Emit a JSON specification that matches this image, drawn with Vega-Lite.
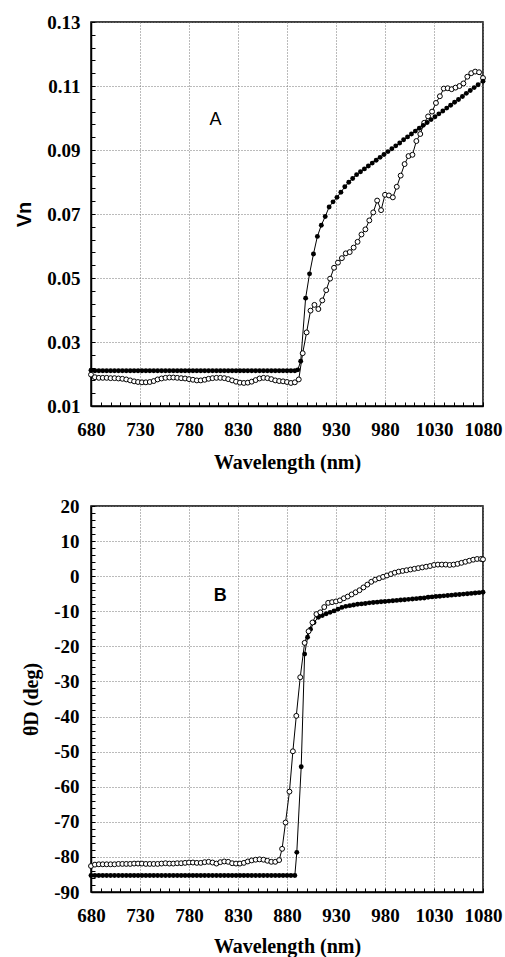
{
  "$schema": "https://vega.github.io/schema/vega-lite/v6.json",
  "background": "white",
  "padding": {"left": 14, "top": 12, "right": 2, "bottom": 0},
  "spacing": 23,
  "config": {
    "view": {"stroke": "black", "strokeWidth": 1.5},
    "axis": {
      "domainColor": "black", "domainWidth": 1.5,
      "tickColor": "black", "tickWidth": 1,
      "labelFont": "Liberation Serif", "labelFontWeight": "bold", "labelFontSize": 19, "labelColor": "black",
      "titleFont": "Liberation Serif", "titleFontWeight": "bold", "titleFontSize": 20, "titleColor": "black",
      "gridColor": "#777", "gridDash": [1, 2], "gridWidth": 1,
      "labelOverlap": false, "labelFlush": false
    }
  },
  "datasets": {
    "a": [
      {"wl":680,"v":0.0212,"s":"filled"},{"wl":684,"v":0.021,"s":"filled"},{"wl":688,"v":0.021,"s":"filled"},{"wl":692,"v":0.021,"s":"filled"},{"wl":696,"v":0.021,"s":"filled"},{"wl":700,"v":0.021,"s":"filled"},{"wl":704,"v":0.021,"s":"filled"},{"wl":708,"v":0.021,"s":"filled"},{"wl":712,"v":0.021,"s":"filled"},{"wl":716,"v":0.021,"s":"filled"},{"wl":720,"v":0.021,"s":"filled"},{"wl":724,"v":0.021,"s":"filled"},{"wl":728,"v":0.021,"s":"filled"},{"wl":732,"v":0.021,"s":"filled"},{"wl":736,"v":0.021,"s":"filled"},{"wl":740,"v":0.021,"s":"filled"},{"wl":744,"v":0.021,"s":"filled"},{"wl":748,"v":0.021,"s":"filled"},{"wl":752,"v":0.021,"s":"filled"},{"wl":756,"v":0.021,"s":"filled"},{"wl":760,"v":0.021,"s":"filled"},{"wl":764,"v":0.021,"s":"filled"},{"wl":768,"v":0.021,"s":"filled"},{"wl":772,"v":0.021,"s":"filled"},{"wl":776,"v":0.021,"s":"filled"},{"wl":780,"v":0.021,"s":"filled"},{"wl":784,"v":0.021,"s":"filled"},{"wl":788,"v":0.021,"s":"filled"},{"wl":792,"v":0.021,"s":"filled"},{"wl":796,"v":0.021,"s":"filled"},{"wl":800,"v":0.021,"s":"filled"},{"wl":804,"v":0.021,"s":"filled"},{"wl":808,"v":0.021,"s":"filled"},{"wl":812,"v":0.021,"s":"filled"},{"wl":816,"v":0.021,"s":"filled"},{"wl":820,"v":0.021,"s":"filled"},{"wl":824,"v":0.021,"s":"filled"},{"wl":828,"v":0.021,"s":"filled"},{"wl":832,"v":0.021,"s":"filled"},{"wl":836,"v":0.021,"s":"filled"},{"wl":840,"v":0.021,"s":"filled"},{"wl":844,"v":0.021,"s":"filled"},{"wl":848,"v":0.021,"s":"filled"},{"wl":852,"v":0.021,"s":"filled"},{"wl":856,"v":0.021,"s":"filled"},{"wl":860,"v":0.021,"s":"filled"},{"wl":864,"v":0.021,"s":"filled"},{"wl":868,"v":0.021,"s":"filled"},{"wl":872,"v":0.021,"s":"filled"},{"wl":876,"v":0.021,"s":"filled"},{"wl":880,"v":0.021,"s":"filled"},{"wl":884,"v":0.021,"s":"filled"},{"wl":888,"v":0.021,"s":"filled"},
      {"wl":891,"v":0.0213,"s":"filled"},{"wl":894,"v":0.024,"s":"filled"},{"wl":899,"v":0.0437,"s":"filled"},{"wl":903,"v":0.0513,"s":"filled"},{"wl":907,"v":0.0575,"s":"filled"},{"wl":911,"v":0.063,"s":"filled"},{"wl":915,"v":0.0665,"s":"filled"},{"wl":919,"v":0.0692,"s":"filled"},{"wl":923,"v":0.0722,"s":"filled"},{"wl":927,"v":0.0738,"s":"filled"},{"wl":931,"v":0.0752,"s":"filled"},{"wl":935,"v":0.0768,"s":"filled"},{"wl":939,"v":0.0785,"s":"filled"},{"wl":943,"v":0.0799,"s":"filled"},{"wl":947,"v":0.0811,"s":"filled"},{"wl":951,"v":0.0823,"s":"filled"},{"wl":955,"v":0.0832,"s":"filled"},{"wl":959,"v":0.0841,"s":"filled"},{"wl":963,"v":0.085,"s":"filled"},{"wl":967,"v":0.0859,"s":"filled"},{"wl":971,"v":0.0868,"s":"filled"},{"wl":975,"v":0.0877,"s":"filled"},{"wl":979,"v":0.0886,"s":"filled"},{"wl":983,"v":0.0895,"s":"filled"},{"wl":987,"v":0.0904,"s":"filled"},{"wl":991,"v":0.0913,"s":"filled"},{"wl":995,"v":0.0922,"s":"filled"},{"wl":999,"v":0.0932,"s":"filled"},{"wl":1003,"v":0.0941,"s":"filled"},{"wl":1007,"v":0.095,"s":"filled"},{"wl":1011,"v":0.0959,"s":"filled"},{"wl":1015,"v":0.0968,"s":"filled"},{"wl":1019,"v":0.0977,"s":"filled"},{"wl":1023,"v":0.0986,"s":"filled"},{"wl":1027,"v":0.0995,"s":"filled"},{"wl":1031,"v":0.1004,"s":"filled"},{"wl":1035,"v":0.1013,"s":"filled"},{"wl":1039,"v":0.1022,"s":"filled"},{"wl":1043,"v":0.1031,"s":"filled"},{"wl":1047,"v":0.104,"s":"filled"},{"wl":1051,"v":0.1049,"s":"filled"},{"wl":1055,"v":0.1058,"s":"filled"},{"wl":1059,"v":0.1067,"s":"filled"},{"wl":1063,"v":0.1077,"s":"filled"},{"wl":1067,"v":0.1086,"s":"filled"},{"wl":1071,"v":0.1095,"s":"filled"},{"wl":1075,"v":0.1104,"s":"filled"},{"wl":1080,"v":0.1115,"s":"filled"},
      {"wl":680,"v":0.0198,"s":"open"},{"wl":684,"v":0.019,"s":"open"},{"wl":688,"v":0.0188,"s":"open"},{"wl":692,"v":0.0188,"s":"open"},{"wl":696,"v":0.0188,"s":"open"},{"wl":700,"v":0.0187,"s":"open"},{"wl":704,"v":0.0187,"s":"open"},{"wl":708,"v":0.0186,"s":"open"},{"wl":712,"v":0.0185,"s":"open"},{"wl":716,"v":0.0183,"s":"open"},{"wl":720,"v":0.018,"s":"open"},{"wl":724,"v":0.0177,"s":"open"},{"wl":728,"v":0.0175,"s":"open"},{"wl":732,"v":0.0174,"s":"open"},{"wl":736,"v":0.0174,"s":"open"},{"wl":740,"v":0.0175,"s":"open"},{"wl":744,"v":0.0178,"s":"open"},{"wl":748,"v":0.0183,"s":"open"},{"wl":752,"v":0.0186,"s":"open"},{"wl":756,"v":0.0188,"s":"open"},{"wl":760,"v":0.0189,"s":"open"},{"wl":764,"v":0.0189,"s":"open"},{"wl":768,"v":0.0188,"s":"open"},{"wl":772,"v":0.0187,"s":"open"},{"wl":776,"v":0.0186,"s":"open"},{"wl":780,"v":0.0184,"s":"open"},{"wl":784,"v":0.0182,"s":"open"},{"wl":788,"v":0.018,"s":"open"},{"wl":792,"v":0.018,"s":"open"},{"wl":796,"v":0.0182,"s":"open"},{"wl":800,"v":0.0185,"s":"open"},{"wl":804,"v":0.0187,"s":"open"},{"wl":808,"v":0.0188,"s":"open"},{"wl":812,"v":0.0188,"s":"open"},{"wl":816,"v":0.0187,"s":"open"},{"wl":820,"v":0.0184,"s":"open"},{"wl":824,"v":0.018,"s":"open"},{"wl":828,"v":0.0176,"s":"open"},{"wl":832,"v":0.0173,"s":"open"},{"wl":836,"v":0.0172,"s":"open"},{"wl":840,"v":0.0173,"s":"open"},{"wl":844,"v":0.0176,"s":"open"},{"wl":848,"v":0.0181,"s":"open"},{"wl":852,"v":0.0186,"s":"open"},{"wl":856,"v":0.0188,"s":"open"},{"wl":860,"v":0.0187,"s":"open"},{"wl":864,"v":0.0184,"s":"open"},{"wl":868,"v":0.018,"s":"open"},{"wl":872,"v":0.0178,"s":"open"},{"wl":876,"v":0.0177,"s":"open"},{"wl":880,"v":0.0175,"s":"open"},{"wl":884,"v":0.0172,"s":"open"},{"wl":888,"v":0.0174,"s":"open"},{"wl":892,"v":0.0183,"s":"open"},{"wl":896,"v":0.0265,"s":"open"},{"wl":900,"v":0.033,"s":"open"},{"wl":904,"v":0.0398,"s":"open"},{"wl":908,"v":0.0416,"s":"open"},{"wl":912,"v":0.0403,"s":"open"},{"wl":916,"v":0.043,"s":"open"},{"wl":920,"v":0.0462,"s":"open"},{"wl":924,"v":0.0498,"s":"open"},{"wl":928,"v":0.0532,"s":"open"},{"wl":932,"v":0.0548,"s":"open"},{"wl":936,"v":0.0562,"s":"open"},{"wl":940,"v":0.0577,"s":"open"},{"wl":944,"v":0.0581,"s":"open"},{"wl":948,"v":0.0595,"s":"open"},{"wl":952,"v":0.0613,"s":"open"},{"wl":956,"v":0.0636,"s":"open"},{"wl":960,"v":0.0652,"s":"open"},{"wl":964,"v":0.068,"s":"open"},{"wl":968,"v":0.0705,"s":"open"},{"wl":972,"v":0.0742,"s":"open"},{"wl":976,"v":0.0712,"s":"open"},{"wl":980,"v":0.076,"s":"open"},{"wl":984,"v":0.0758,"s":"open"},{"wl":988,"v":0.0752,"s":"open"},{"wl":992,"v":0.0785,"s":"open"},{"wl":996,"v":0.082,"s":"open"},{"wl":1000,"v":0.0856,"s":"open"},{"wl":1004,"v":0.0881,"s":"open"},{"wl":1008,"v":0.0885,"s":"open"},{"wl":1012,"v":0.0928,"s":"open"},{"wl":1016,"v":0.095,"s":"open"},{"wl":1020,"v":0.0985,"s":"open"},{"wl":1024,"v":0.1005,"s":"open"},{"wl":1028,"v":0.102,"s":"open"},{"wl":1032,"v":0.1047,"s":"open"},{"wl":1036,"v":0.1068,"s":"open"},{"wl":1040,"v":0.1092,"s":"open"},{"wl":1044,"v":0.1093,"s":"open"},{"wl":1048,"v":0.109,"s":"open"},{"wl":1052,"v":0.1095,"s":"open"},{"wl":1056,"v":0.11,"s":"open"},{"wl":1060,"v":0.1108,"s":"open"},{"wl":1064,"v":0.1129,"s":"open"},{"wl":1068,"v":0.114,"s":"open"},{"wl":1072,"v":0.1145,"s":"open"},{"wl":1076,"v":0.1143,"s":"open"},{"wl":1080,"v":0.1125,"s":"open"}
    ],
    "b": [
      {"wl":680,"v":-85.3,"s":"filled"},{"wl":684,"v":-85.3,"s":"filled"},{"wl":688,"v":-85.3,"s":"filled"},{"wl":692,"v":-85.3,"s":"filled"},{"wl":696,"v":-85.3,"s":"filled"},{"wl":700,"v":-85.3,"s":"filled"},{"wl":704,"v":-85.3,"s":"filled"},{"wl":708,"v":-85.3,"s":"filled"},{"wl":712,"v":-85.3,"s":"filled"},{"wl":716,"v":-85.3,"s":"filled"},{"wl":720,"v":-85.3,"s":"filled"},{"wl":724,"v":-85.3,"s":"filled"},{"wl":728,"v":-85.3,"s":"filled"},{"wl":732,"v":-85.3,"s":"filled"},{"wl":736,"v":-85.3,"s":"filled"},{"wl":740,"v":-85.3,"s":"filled"},{"wl":744,"v":-85.3,"s":"filled"},{"wl":748,"v":-85.3,"s":"filled"},{"wl":752,"v":-85.3,"s":"filled"},{"wl":756,"v":-85.3,"s":"filled"},{"wl":760,"v":-85.3,"s":"filled"},{"wl":764,"v":-85.3,"s":"filled"},{"wl":768,"v":-85.3,"s":"filled"},{"wl":772,"v":-85.3,"s":"filled"},{"wl":776,"v":-85.3,"s":"filled"},{"wl":780,"v":-85.3,"s":"filled"},{"wl":784,"v":-85.3,"s":"filled"},{"wl":788,"v":-85.3,"s":"filled"},{"wl":792,"v":-85.3,"s":"filled"},{"wl":796,"v":-85.3,"s":"filled"},{"wl":800,"v":-85.3,"s":"filled"},{"wl":804,"v":-85.3,"s":"filled"},{"wl":808,"v":-85.3,"s":"filled"},{"wl":812,"v":-85.3,"s":"filled"},{"wl":816,"v":-85.3,"s":"filled"},{"wl":820,"v":-85.3,"s":"filled"},{"wl":824,"v":-85.3,"s":"filled"},{"wl":828,"v":-85.3,"s":"filled"},{"wl":832,"v":-85.3,"s":"filled"},{"wl":836,"v":-85.3,"s":"filled"},{"wl":840,"v":-85.3,"s":"filled"},{"wl":844,"v":-85.3,"s":"filled"},{"wl":848,"v":-85.3,"s":"filled"},{"wl":852,"v":-85.3,"s":"filled"},{"wl":856,"v":-85.3,"s":"filled"},{"wl":860,"v":-85.3,"s":"filled"},{"wl":864,"v":-85.3,"s":"filled"},{"wl":868,"v":-85.3,"s":"filled"},{"wl":872,"v":-85.3,"s":"filled"},{"wl":876,"v":-85.3,"s":"filled"},{"wl":880,"v":-85.3,"s":"filled"},{"wl":884,"v":-85.3,"s":"filled"},{"wl":888,"v":-85.3,"s":"filled"},
      {"wl":890,"v":-78.7,"s":"filled"},{"wl":894.5,"v":-54.3,"s":"filled"},{"wl":898,"v":-22.2,"s":"filled"},{"wl":901,"v":-17.4,"s":"filled"},{"wl":904,"v":-15.1,"s":"filled"},{"wl":907.5,"v":-13.2,"s":"filled"},{"wl":912,"v":-11.7,"s":"filled"},{"wl":916,"v":-11.2,"s":"filled"},{"wl":920,"v":-10.7,"s":"filled"},{"wl":924,"v":-10.3,"s":"filled"},{"wl":928,"v":-9.9,"s":"filled"},{"wl":932,"v":-9.4,"s":"filled"},{"wl":936,"v":-8.9,"s":"filled"},{"wl":940,"v":-8.6,"s":"filled"},{"wl":944,"v":-8.4,"s":"filled"},{"wl":948,"v":-8.2,"s":"filled"},{"wl":952,"v":-8.0,"s":"filled"},{"wl":956,"v":-7.9,"s":"filled"},{"wl":960,"v":-7.8,"s":"filled"},{"wl":964,"v":-7.6,"s":"filled"},{"wl":968,"v":-7.5,"s":"filled"},{"wl":972,"v":-7.4,"s":"filled"},{"wl":976,"v":-7.3,"s":"filled"},{"wl":980,"v":-7.2,"s":"filled"},{"wl":984,"v":-7.1,"s":"filled"},{"wl":988,"v":-7.0,"s":"filled"},{"wl":992,"v":-6.9,"s":"filled"},{"wl":996,"v":-6.8,"s":"filled"},{"wl":1000,"v":-6.7,"s":"filled"},{"wl":1004,"v":-6.6,"s":"filled"},{"wl":1008,"v":-6.5,"s":"filled"},{"wl":1012,"v":-6.4,"s":"filled"},{"wl":1016,"v":-6.3,"s":"filled"},{"wl":1020,"v":-6.2,"s":"filled"},{"wl":1024,"v":-6.0,"s":"filled"},{"wl":1028,"v":-5.9,"s":"filled"},{"wl":1032,"v":-5.8,"s":"filled"},{"wl":1036,"v":-5.7,"s":"filled"},{"wl":1040,"v":-5.6,"s":"filled"},{"wl":1044,"v":-5.5,"s":"filled"},{"wl":1048,"v":-5.4,"s":"filled"},{"wl":1052,"v":-5.3,"s":"filled"},{"wl":1056,"v":-5.2,"s":"filled"},{"wl":1060,"v":-5.1,"s":"filled"},{"wl":1064,"v":-5.0,"s":"filled"},{"wl":1068,"v":-4.9,"s":"filled"},{"wl":1072,"v":-4.8,"s":"filled"},{"wl":1076,"v":-4.7,"s":"filled"},{"wl":1080,"v":-4.6,"s":"filled"},
      {"wl":680,"v":-82.6,"s":"open"},{"wl":684,"v":-82.2,"s":"open"},{"wl":688,"v":-82.1,"s":"open"},{"wl":692,"v":-82.1,"s":"open"},{"wl":696,"v":-82.1,"s":"open"},{"wl":700,"v":-82.1,"s":"open"},{"wl":704,"v":-82.1,"s":"open"},{"wl":708,"v":-82.0,"s":"open"},{"wl":712,"v":-82.0,"s":"open"},{"wl":716,"v":-82.0,"s":"open"},{"wl":720,"v":-82.0,"s":"open"},{"wl":724,"v":-81.9,"s":"open"},{"wl":728,"v":-81.9,"s":"open"},{"wl":732,"v":-81.9,"s":"open"},{"wl":736,"v":-82.0,"s":"open"},{"wl":740,"v":-82.0,"s":"open"},{"wl":744,"v":-82.0,"s":"open"},{"wl":748,"v":-82.0,"s":"open"},{"wl":752,"v":-81.9,"s":"open"},{"wl":756,"v":-81.8,"s":"open"},{"wl":760,"v":-81.9,"s":"open"},{"wl":764,"v":-81.9,"s":"open"},{"wl":768,"v":-81.8,"s":"open"},{"wl":772,"v":-81.8,"s":"open"},{"wl":776,"v":-81.7,"s":"open"},{"wl":780,"v":-81.6,"s":"open"},{"wl":784,"v":-81.6,"s":"open"},{"wl":788,"v":-81.7,"s":"open"},{"wl":792,"v":-81.7,"s":"open"},{"wl":796,"v":-81.5,"s":"open"},{"wl":800,"v":-81.4,"s":"open"},{"wl":804,"v":-81.6,"s":"open"},{"wl":808,"v":-81.9,"s":"open"},{"wl":812,"v":-81.5,"s":"open"},{"wl":816,"v":-81.3,"s":"open"},{"wl":820,"v":-81.4,"s":"open"},{"wl":824,"v":-81.8,"s":"open"},{"wl":828,"v":-81.9,"s":"open"},{"wl":832,"v":-81.9,"s":"open"},{"wl":836,"v":-81.7,"s":"open"},{"wl":840,"v":-81.3,"s":"open"},{"wl":844,"v":-81.0,"s":"open"},{"wl":848,"v":-80.8,"s":"open"},{"wl":852,"v":-80.7,"s":"open"},{"wl":856,"v":-80.8,"s":"open"},{"wl":860,"v":-81.1,"s":"open"},{"wl":864,"v":-81.4,"s":"open"},{"wl":868,"v":-81.4,"s":"open"},{"wl":872,"v":-80.9,"s":"open"},
      {"wl":875,"v":-77.7,"s":"open"},{"wl":878.5,"v":-70.2,"s":"open"},{"wl":882.5,"v":-61.4,"s":"open"},{"wl":886,"v":-49.9,"s":"open"},{"wl":889.5,"v":-39.8,"s":"open"},{"wl":893.5,"v":-28.8,"s":"open"},{"wl":898,"v":-19.0,"s":"open"},{"wl":902,"v":-15.7,"s":"open"},{"wl":906,"v":-13.2,"s":"open"},{"wl":910,"v":-10.8,"s":"open"},{"wl":914,"v":-10.3,"s":"open"},{"wl":918,"v":-8.8,"s":"open"},{"wl":922,"v":-7.6,"s":"open"},{"wl":926,"v":-7.4,"s":"open"},{"wl":930,"v":-7.2,"s":"open"},{"wl":934,"v":-6.9,"s":"open"},{"wl":938,"v":-6.3,"s":"open"},{"wl":942,"v":-5.8,"s":"open"},{"wl":946,"v":-5.2,"s":"open"},{"wl":950,"v":-4.6,"s":"open"},{"wl":954,"v":-4.0,"s":"open"},{"wl":958,"v":-3.2,"s":"open"},{"wl":962,"v":-2.4,"s":"open"},{"wl":966,"v":-1.6,"s":"open"},{"wl":970,"v":-1.0,"s":"open"},{"wl":974,"v":-0.6,"s":"open"},{"wl":978,"v":-0.2,"s":"open"},{"wl":982,"v":0.2,"s":"open"},{"wl":986,"v":0.6,"s":"open"},{"wl":990,"v":1.0,"s":"open"},{"wl":994,"v":1.3,"s":"open"},{"wl":998,"v":1.5,"s":"open"},{"wl":1002,"v":1.7,"s":"open"},{"wl":1006,"v":1.9,"s":"open"},{"wl":1010,"v":2.1,"s":"open"},{"wl":1014,"v":2.3,"s":"open"},{"wl":1018,"v":2.5,"s":"open"},{"wl":1022,"v":2.7,"s":"open"},{"wl":1026,"v":2.9,"s":"open"},{"wl":1030,"v":3.2,"s":"open"},{"wl":1034,"v":3.3,"s":"open"},{"wl":1038,"v":3.3,"s":"open"},{"wl":1042,"v":3.3,"s":"open"},{"wl":1046,"v":3.2,"s":"open"},{"wl":1050,"v":3.3,"s":"open"},{"wl":1054,"v":3.5,"s":"open"},{"wl":1058,"v":3.8,"s":"open"},{"wl":1062,"v":4.1,"s":"open"},{"wl":1066,"v":4.4,"s":"open"},{"wl":1070,"v":4.7,"s":"open"},{"wl":1074,"v":4.9,"s":"open"},{"wl":1078,"v":4.9,"s":"open"},{"wl":1080,"v":4.8,"s":"open"}
    ],
    "labA": [{"wl": 807, "v": 0.0994, "t": "A"}],
    "labB": [{"wl": 812, "v": -5.6, "t": "B"}]
  },
  "vconcat": [
    {
      "width": 392, "height": 384,
      "data": {"name": "a"},
      "encoding": {
        "x": {"field": "wl", "type": "quantitative", "scale": {"domain": [680, 1080], "nice": false, "zero": false},
          "axis": {"title": "Wavelength (nm)", "titlePadding": 13, "format": "d",
            "values": [680,690,700,710,720,730,740,750,760,770,780,790,800,810,820,830,840,850,860,870,880,890,900,910,920,930,940,950,960,970,980,990,1000,1010,1020,1030,1040,1050,1060,1070,1080],
            "labelExpr": "(datum.value - 680) % 50 === 0 ? datum.label : ''",
            "tickSize": -4, "labelPadding": 18,
            "gridOpacity": {"condition": {"test": "(datum.value - 680) % 50 === 0", "value": 1}, "value": 0}}},
        "y": {"field": "v", "type": "quantitative", "scale": {"domain": [0.01, 0.13], "nice": false, "zero": false},
          "axis": {"title": "Vn", "titleFont": "Liberation Sans", "titlePadding": 12, "format": ".2f",
            "values": [0.01,0.014,0.018,0.022,0.026,0.03,0.034,0.038,0.042,0.046,0.05,0.054,0.058,0.062,0.066,0.07,0.074,0.078,0.082,0.086,0.09,0.094,0.098,0.102,0.106,0.11,0.114,0.118,0.122,0.126,0.13],
            "labelExpr": "abs(datum.value*50 - 0.5 - round(datum.value*50 - 0.5)) < 0.01 ? datum.label : ''",
            "tickSize": -4, "labelPadding": 15,
            "gridOpacity": {"condition": {"test": "abs(datum.value*50 - 0.5 - round(datum.value*50 - 0.5)) < 0.01", "value": 1}, "value": 0}}}
      },
      "layer": [
        {"transform": [{"filter": "datum.s === 'open'"}], "mark": {"type": "line", "color": "black", "strokeWidth": 1}},
        {"transform": [{"filter": "datum.s === 'filled'"}], "mark": {"type": "line", "color": "black", "strokeWidth": 1}},
        {"transform": [{"filter": "datum.s === 'open'"}], "mark": {"type": "point", "shape": "circle", "filled": true, "fill": "white", "stroke": "black", "strokeWidth": 1, "size": 24, "opacity": 1}},
        {"transform": [{"filter": "datum.s === 'filled'"}], "mark": {"type": "point", "shape": "circle", "filled": true, "color": "black", "size": 24, "opacity": 1}},
        {"data": {"name": "labA"}, "mark": {"type": "text", "font": "Liberation Sans", "fontSize": 18, "fontWeight": "normal", "color": "black"}, "encoding": {"text": {"field": "t"}}}
      ]
    },
    {
      "width": 392, "height": 386,
      "data": {"name": "b"},
      "encoding": {
        "x": {"field": "wl", "type": "quantitative", "scale": {"domain": [680, 1080], "nice": false, "zero": false},
          "axis": {"title": "Wavelength (nm)", "titlePadding": 11, "format": "d",
            "values": [680,690,700,710,720,730,740,750,760,770,780,790,800,810,820,830,840,850,860,870,880,890,900,910,920,930,940,950,960,970,980,990,1000,1010,1020,1030,1040,1050,1060,1070,1080],
            "labelExpr": "(datum.value - 680) % 50 === 0 ? datum.label : ''",
            "tickSize": -4, "labelPadding": 18,
            "gridOpacity": {"condition": {"test": "(datum.value - 680) % 50 === 0", "value": 1}, "value": 0}}},
        "y": {"field": "v", "type": "quantitative", "scale": {"domain": [-90, 20], "nice": false, "zero": false},
          "axis": {"title": "θD  (deg)", "titlePadding": 12,
            "values": [-90,-88,-86,-84,-82,-80,-78,-76,-74,-72,-70,-68,-66,-64,-62,-60,-58,-56,-54,-52,-50,-48,-46,-44,-42,-40,-38,-36,-34,-32,-30,-28,-26,-24,-22,-20,-18,-16,-14,-12,-10,-8,-6,-4,-2,0,2,4,6,8,10,12,14,16,18,20],
            "labelExpr": "datum.value % 10 === 0 ? '' + datum.value : ''",
            "tickSize": -4, "labelPadding": 16,
            "gridOpacity": {"condition": {"test": "datum.value % 10 === 0", "value": 1}, "value": 0}}}
      },
      "layer": [
        {"transform": [{"filter": "datum.s === 'filled'"}], "mark": {"type": "line", "color": "black", "strokeWidth": 1}},
        {"transform": [{"filter": "datum.s === 'open'"}], "mark": {"type": "line", "color": "black", "strokeWidth": 1}},
        {"transform": [{"filter": "datum.s === 'filled'"}], "mark": {"type": "point", "shape": "circle", "filled": true, "color": "black", "size": 24, "opacity": 1}},
        {"transform": [{"filter": "datum.s === 'open'"}], "mark": {"type": "point", "shape": "circle", "filled": true, "fill": "white", "stroke": "black", "strokeWidth": 1, "size": 24, "opacity": 1}},
        {"data": {"name": "labB"}, "mark": {"type": "text", "font": "Liberation Sans", "fontSize": 18, "fontWeight": "bold", "color": "black"}, "encoding": {"text": {"field": "t"}}}
      ]
    }
  ]
}
